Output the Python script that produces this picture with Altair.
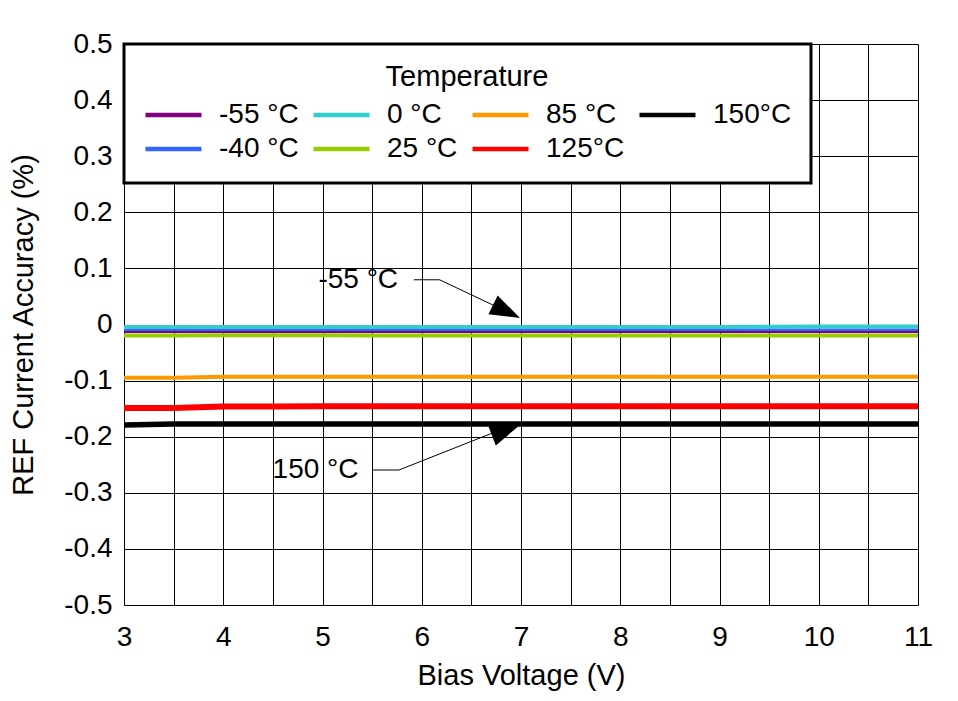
import altair as alt
import pandas as pd

# ---------------- data ----------------
bias = [3, 3.5, 4, 4.5, 5, 5.5, 6, 6.5, 7, 7.5, 8, 8.5, 9, 9.5, 10, 10.5, 11]

acc_m55 = [-0.0135, -0.0135, -0.0134, -0.0134, -0.0135, -0.0134, -0.0134, -0.0134, -0.0134,
           -0.0134, -0.0134, -0.0134, -0.0134, -0.0134, -0.0134, -0.0134, -0.0134]
acc_m40 = [-0.0095, -0.0095, -0.0095, -0.0095, -0.0095, -0.0095, -0.0095, -0.0095, -0.0095,
           -0.0095, -0.0095, -0.0095, -0.0095, -0.0095, -0.0094, -0.0094, -0.0094]
acc_0 = [-0.0045, -0.0045, -0.0045, -0.0045, -0.0045, -0.0045, -0.0045, -0.0045, -0.0045,
         -0.0045, -0.0045, -0.0045, -0.0044, -0.0042, -0.0036, -0.0036, -0.0036]
acc_25 = [-0.0198, -0.0198, -0.0193, -0.0192, -0.0193, -0.0197, -0.0197, -0.0197, -0.0197,
          -0.0197, -0.0197, -0.0197, -0.0197, -0.0197, -0.0197, -0.0197, -0.0197]
acc_85 = [-0.0948, -0.0948, -0.0932, -0.0932, -0.0931, -0.0931, -0.0931, -0.0931, -0.0930,
          -0.0930, -0.0930, -0.0930, -0.0930, -0.0930, -0.0930, -0.0930, -0.0930]
acc_125 = [-0.1490, -0.1490, -0.1461, -0.1460, -0.1459, -0.1459, -0.1458, -0.1458, -0.1458,
           -0.1458, -0.1458, -0.1458, -0.1458, -0.1458, -0.1458, -0.1458, -0.1458]
acc_150 = [-0.1790, -0.1775, -0.1774, -0.1773, -0.1773, -0.1773, -0.1772, -0.1772, -0.1772,
           -0.1772, -0.1772, -0.1772, -0.1772, -0.1772, -0.1772, -0.1772, -0.1772]

temps = ["-55 °C", "-40 °C", "0 °C", "25 °C", "85 °C", "125°C", "150°C"]
series = [acc_m55, acc_m40, acc_0, acc_25, acc_85, acc_125, acc_150]
colors = ["#800080", "#3366FF", "#33CCCC", "#99CC00", "#FF9900", "#FF0000", "#000000"]
widths = [2, 2.5, 4, 4, 4, 6, 5.5]

x_ticks = [3, 3.5, 4, 4.5, 5, 5.5, 6, 6.5, 7, 7.5, 8, 8.5, 9, 9.5, 10, 10.5, 11]
y_ticks = [-0.5, -0.4, -0.3, -0.2, -0.1, 0, 0.1, 0.2, 0.3, 0.4, 0.5]

# annotations
ann_text = ["-55 °C", "150 °C"]
ann_tx = [5.36, 4.93]
ann_ty = [0.080, -0.2594]
ann_line_id = ["a", "a", "a", "b", "b", "b"]
ann_line_x = [5.92, 6.18, 6.85, 5.50, 5.77, 6.85]
ann_line_y = [0.0797, 0.0797, 0.0236, -0.2594, -0.2594, -0.1838]
tip_x = [6.99, 6.99]
tip_y = [0.0116, -0.1790]
tip_angle = [26, 339]

# ---------------- build tables ----------------
rows = []
for t, vals in zip(temps, series):
    for xv, yv in zip(bias, vals):
        rows.append({"bias": xv, "acc": yv, "temp": t})
df = pd.DataFrame(rows)

FONT = "Liberation Sans"

xs = alt.Scale(domain=[3, 11], nice=False, zero=False)
ys = alt.Scale(domain=[-0.5, 0.5], nice=False, zero=False)

x_enc = alt.X("bias:Q", scale=xs, title="Bias Voltage (V)",
              axis=alt.Axis(values=x_ticks,
                            labelExpr="datum.value % 1 == 0 ? toString(datum.value) : ''",
                            ticks=False, domain=False, grid=True, gridColor="black",
                            gridWidth=1, gridOpacity=1, labelFontSize=28, labelPadding=18,
                            labelColor="black", titleFontSize=29, titleFontWeight="normal",
                            titleColor="black", titlePadding=10, labelFont=FONT, titleFont=FONT,
                            labelFlush=False))
y_enc = alt.Y("acc:Q", scale=ys, title="REF Current Accuracy (%)",
              axis=alt.Axis(values=y_ticks,
                            labelExpr="toString(round(datum.value*10)/10)",
                            ticks=False, domain=False, grid=True, gridColor="black",
                            gridWidth=1, gridOpacity=1, labelFontSize=28, labelPadding=12,
                            labelColor="black", titleFontSize=29, titleFontWeight="normal",
                            titleColor="black", titlePadding=25, labelFont=FONT, titleFont=FONT))
c_enc = alt.Color("temp:N",
                  scale=alt.Scale(domain=temps, range=colors),
                  legend=alt.Legend(title="Temperature", orient="none", legendX=0, legendY=0,
                                    columns=4, symbolType="stroke", symbolSize=3136,
                                    symbolStrokeWidth=4.5, labelFontSize=28, titleFontSize=29,
                                    titleFontWeight="normal", titleAnchor="middle",
                                    labelFont=FONT, titleFont=FONT, labelColor="black",
                                    titleColor="black", padding=19, fillColor="white",
                                    strokeColor="black", labelOffset=15, clipHeight=30,
                                    columnPadding=12, rowPadding=4, titlePadding=8,
                                    labelLimit=0))

line_layers = []
for t, w in zip(temps, widths):
    line_layers.append(
        alt.Chart(df).transform_filter(alt.datum.temp == t)
        .mark_line(strokeCap="butt", strokeWidth=w)
        .encode(x=x_enc, y=y_enc, color=c_enc)
    )

ann_df = pd.DataFrame({"text": ann_text, "x": ann_tx, "y": ann_ty})
texts = alt.Chart(ann_df).mark_text(fontSize=28, font=FONT, align="center",
                                    baseline="middle", color="black").encode(
    x=alt.X("x:Q", scale=xs), y=alt.Y("y:Q", scale=ys), text="text:N")

line_df = pd.DataFrame({"id": ann_line_id, "x": ann_line_x, "y": ann_line_y,
                        "o": list(range(len(ann_line_x)))})
ann_lines = alt.Chart(line_df).mark_line(color="black", strokeWidth=1).encode(
    x=alt.X("x:Q", scale=xs), y=alt.Y("y:Q", scale=ys), detail="id:N", order="o:Q")

tip_df = pd.DataFrame({"x": tip_x, "y": tip_y, "angle": tip_angle})
tips = alt.Chart(tip_df).mark_point(shape="M0,0L-2,-0.7L-2,0.7Z", filled=True, fill="black",
                                    stroke="black", strokeWidth=0, size=900, opacity=1).encode(
    x=alt.X("x:Q", scale=xs), y=alt.Y("y:Q", scale=ys),
    angle=alt.Angle("angle:Q", scale=None))

chart = alt.layer(*line_layers, ann_lines, tips, texts).properties(
    width=794, height=561,
    autosize=alt.AutoSizeParams(type="none"),
    padding={"left": 116, "top": 36, "right": 24, "bottom": 92},
).configure_view(stroke="black", strokeWidth=3).configure(
    background="white").configure_legend(strokeWidth=3)

chart.save("out.html", embed_options={"renderer": "svg", "actions": False})
